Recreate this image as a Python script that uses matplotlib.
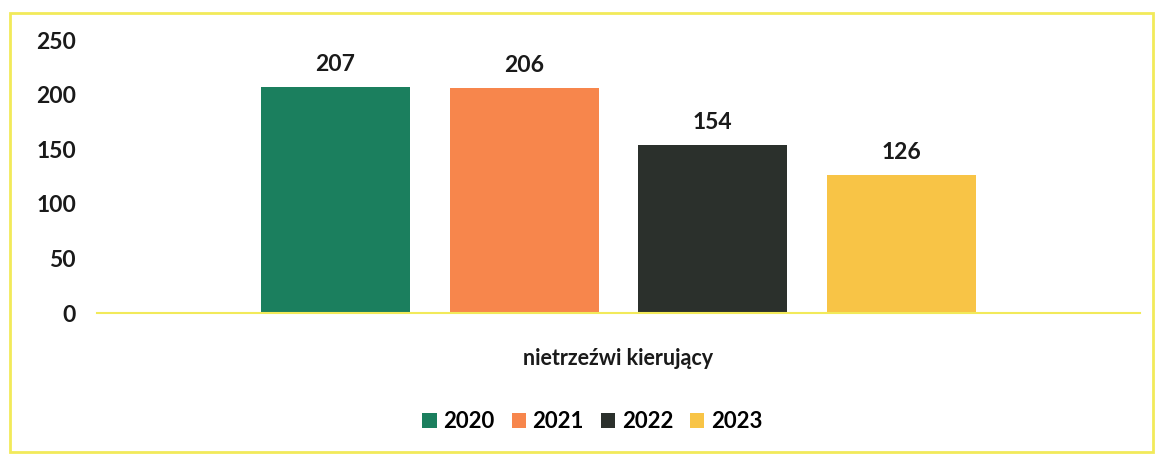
import matplotlib
matplotlib.use("Agg")
import matplotlib.pyplot as plt
from matplotlib.patches import Rectangle, Patch
import numpy as np

# data
category = "nietrzeźwi kierujący"
years = ["2020", "2021", "2022", "2023"]
values = [207, 206, 154, 126]
colours = ["#1b7f5e", "#f7864c", "#2b302c", "#f8c446"]
yticks = [0, 50, 100, 150, 200, 250]

plt.rcParams["font.family"] = ["Lato", "DejaVu Sans"]
plt.rcParams["font.weight"] = "bold"

fig = plt.figure(figsize=(11.57, 4.55), dpi=100)
ax = fig.add_axes([0.0838, 0.312, 0.9015, 0.600])

# bars, grouped around the single category
step = 0.181
width = 0.143
offsets = (np.arange(len(years)) - (len(years) - 1) / 2.) * step
for off, v, c, yr in zip(offsets, values, colours, years):
    ax.bar(off, v, width=width, color=c, label=yr)
    ax.text(off, v + 11, str(v), ha="center", va="bottom",
            fontsize=16.5, fontweight="bold", color="#1a1a1a")

ax.set_xlim(-0.5, 0.5)
ax.set_ylim(0, 250)
ax.set_yticks(yticks)
ax.set_yticklabels([str(t) for t in yticks], fontsize=16.5,
                   fontweight="bold", color="#1a1a1a")
ax.tick_params(axis="y", length=0, pad=15)
ax.set_xticks([])

for s in ["top", "right", "left"]:
    ax.spines[s].set_visible(False)
ax.spines["bottom"].set_color("#f2ea5a")
ax.spines["bottom"].set_linewidth(1.5)

# category label
ax.text(0, -0.165, category, transform=ax.get_xaxis_transform(),
        ha="center", va="center", fontsize=15.5, fontweight="bold",
        color="#1a1a1a")

# legend
handles = [Patch(facecolor=c, label=y) for c, y in zip(colours, years)]
fig.legend(handles=handles, loc="center", bbox_to_anchor=(0.512, 0.073),
           ncol=4, frameon=False, handlelength=0.65,
           handleheight=0.65, handletextpad=0.3, columnspacing=0.75,
           prop={"weight": "bold", "size": 16})

# yellow chart frame
fig.patches.append(Rectangle((10 / 1157, 3 / 455), 1143 / 1157, 439 / 455,
                             transform=fig.transFigure, fill=False,
                             edgecolor="#f2ea5a", linewidth=2))

fig.savefig("out.png", dpi=100)
